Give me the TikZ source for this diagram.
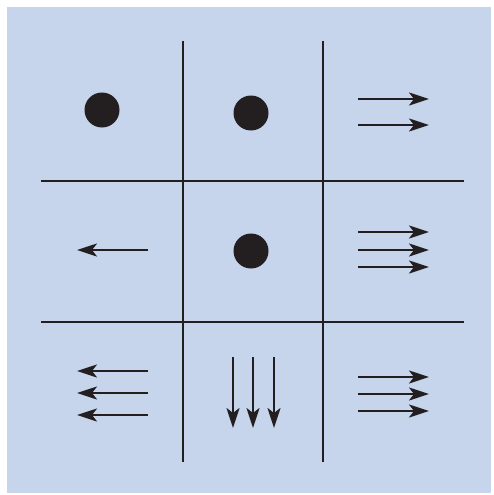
\documentclass[tikz,border=0pt]{standalone}
\usetikzlibrary{arrows.meta}
\definecolor{panel}{RGB}{198,213,236}
\definecolor{ink}{RGB}{35,31,32}
\tikzset{
  gridline/.style={ink, line width=1.8pt},
  flow/.style={ink, line width=2.4pt, -{Stealth[length=20pt,width=13pt,inset=5pt]}},
  dot/.style={circle, fill=ink, minimum size=35pt, inner sep=0pt}
}
\begin{document}
\begin{tikzpicture}[x=1pt,y=-1pt]
  \useasboundingbox (0,0) rectangle (493,495);
  \fill[panel] (7,7) rectangle (491,493);
  % grid
  \coordinate (v1t) at (183,41); \coordinate (v1b) at (183,462);
  \coordinate (v2t) at (323,41); \coordinate (v2b) at (323,462);
  \coordinate (h1l) at (41,181); \coordinate (h1r) at (464,181);
  \coordinate (h2l) at (41,322); \coordinate (h2r) at (464,322);
  \draw[gridline] (v1t) -- (v1b);
  \draw[gridline] (v2t) -- (v2b);
  \draw[gridline] (h1l) -- (h1r);
  \draw[gridline] (h2l) -- (h2r);
  % dots
  \node[dot] (d1) at (102,110) {};
  \node[dot] (d2) at (251,113) {};
  \node[dot] (d3) at (251,251) {};
  % top right
  \foreach \y [count=\i] in {99,125} {
    \coordinate (a\i s) at (358,\y); \coordinate (a\i e) at (429,\y);
    \draw[flow] (a\i s) -- (a\i e);
  }
  % middle left
  \coordinate (bs) at (148,250); \coordinate (be) at (77,250);
  \draw[flow] (bs) -- (be);
  % middle right
  \foreach \y [count=\i] in {232,250,267} {
    \coordinate (c\i s) at (358,\y); \coordinate (c\i e) at (429,\y);
    \draw[flow] (c\i s) -- (c\i e);
  }
  % bottom left
  \foreach \y [count=\i] in {371,393,415} {
    \coordinate (e\i s) at (148,\y); \coordinate (e\i e) at (77,\y);
    \draw[flow] (e\i s) -- (e\i e);
  }
  % bottom middle
  \foreach \x [count=\i] in {233,253,274} {
    \coordinate (f\i s) at (\x,357); \coordinate (f\i e) at (\x,428);
    \draw[flow] (f\i s) -- (f\i e);
  }
  % bottom right
  \foreach \y [count=\i] in {377,394,411} {
    \coordinate (g\i s) at (358,\y); \coordinate (g\i e) at (429,\y);
    \draw[flow] (g\i s) -- (g\i e);
  }
\end{tikzpicture}
\end{document}
